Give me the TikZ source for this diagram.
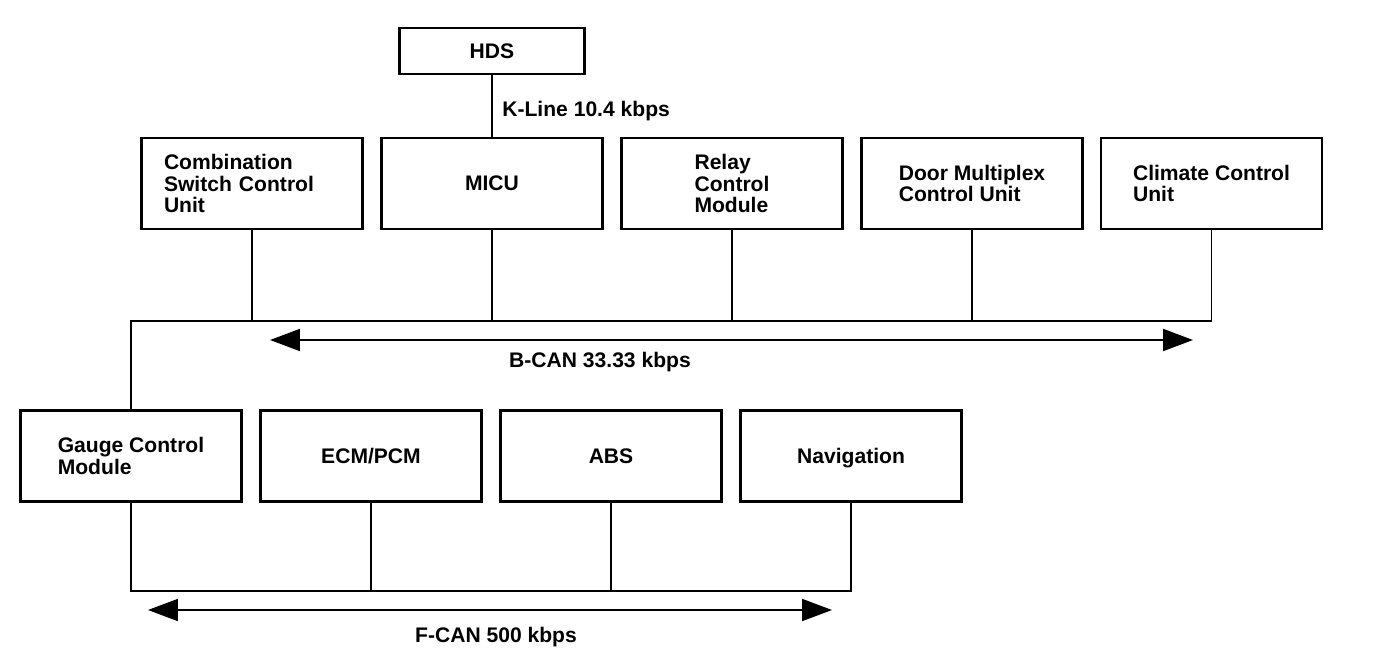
\documentclass[tikz,border=0pt]{standalone}
\usepackage{fontspec}
\setmainfont{Liberation Sans}
\usetikzlibrary{arrows.meta}
\tikzset{
  box/.style={draw, line width=1.6pt, minimum width=4.42cm, minimum height=1.82cm,
    inner sep=0pt, align=left, font=\fontsize{12}{12.2}\selectfont\bfseries},
  oneline/.style={text depth=0pt},
  lbl/.style={inner sep=0pt, font=\fontsize{12}{12.2}\selectfont\bfseries},
  wire/.style={line width=1.1pt},
  busarrow/.style={line width=1.1pt, {Triangle[length=0.6cm,width=0.44cm]}-{Triangle[length=0.6cm,width=0.44cm]}}
}
\begin{document}
\begin{tikzpicture}[x=0.02cm,y=-0.02cm]
\useasboundingbox (0,0) rectangle (1392,666);
% HDS
\node[box, oneline, minimum width=3.7cm, minimum height=0.92cm] (hds) at (492,51) {HDS};
% top row
\node[box, text width=3.52cm] (comb) at (252,183.5) {Combination\\Switch Control\\Unit};
\node[box, oneline] (micu) at (492,183.5) {MICU};
\node[box] (relay) at (732,183.5) {Relay\\Control\\Module};
\node[box] (door) at (972,183.5) {Door Multiplex\\Control Unit};
\node[box] (clim) at (1211.5,183.5) {Climate Control\\Unit};
% bottom row
\node[box] (gauge) at (131,456) {Gauge Control\\Module};
\node[box, oneline] (ecm) at (371,456) {ECM/PCM};
\node[box, oneline] (abs) at (611,456) {ABS};
\node[box, oneline] (nav) at (851,456) {Navigation};
% K-Line
\draw[wire] (hds) -- (micu);
\node[lbl, anchor=west] (kline) at (502,111) {K-Line 10.4 kbps};
% B-CAN bus
\coordinate (bbus) at (0,321);
\draw[wire] (gauge.north) -- (gauge.north |- bbus) -| (clim.south);
\draw[wire] (comb.south) -- (comb.south |- bbus);
\draw[wire] (micu.south) -- (micu.south |- bbus);
\draw[wire] (relay.south) -- (relay.south |- bbus);
\draw[wire] (door.south) -- (door.south |- bbus);
\coordinate (ba1) at (270,340);
\coordinate (ba2) at (1193,340);
\draw[busarrow] (ba1) -- (ba2);
\node[lbl] (bcan) at (600,362) {B-CAN 33.33 kbps};
% F-CAN bus
\coordinate (fbus) at (0,591);
\draw[wire] (gauge.south) -- (gauge.south |- fbus) -| (nav.south);
\draw[wire] (ecm.south) -- (ecm.south |- fbus);
\draw[wire] (abs.south) -- (abs.south |- fbus);
\coordinate (fa1) at (148,610);
\coordinate (fa2) at (832,610);
\draw[busarrow] (fa1) -- (fa2);
\node[lbl] (fcan) at (496,637) {F-CAN 500 kbps};
\end{tikzpicture}
\end{document}
